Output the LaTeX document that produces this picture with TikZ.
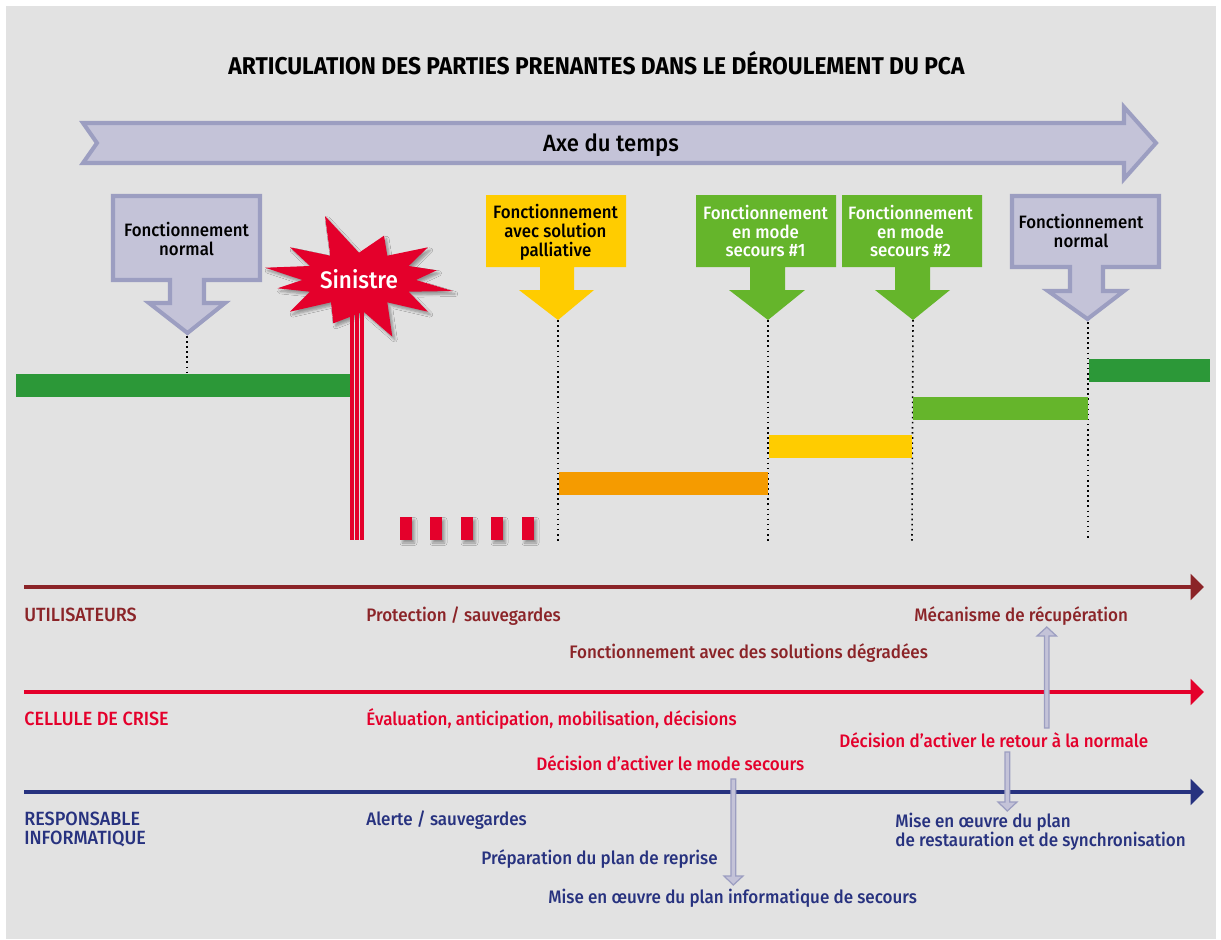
\documentclass[tikz,border=0pt]{standalone}
\usepackage{fontspec}
\setmainfont{Fira Sans}[FakeStretch=0.94,UprightFont=* Medium,BoldFont=* Bold]
\usetikzlibrary{arrows.meta, shadows.blur}
\definecolor{fond}{HTML}{E2E2E2}
\definecolor{lavande}{HTML}{C4C3D8}
\definecolor{lavandeb}{HTML}{9C9EC1}
\definecolor{rouge}{HTML}{E4002B}
\definecolor{bordeaux}{HTML}{8B2428}
\definecolor{marine}{HTML}{27327F}
\definecolor{vert}{HTML}{2C9838}
\definecolor{vertc}{HTML}{65B52B}
\definecolor{jaune}{HTML}{FFCC00}
\definecolor{orange}{HTML}{F59B00}

\begin{document}
\begin{tikzpicture}[line join=miter,x=0.02cm,y=-0.02cm,
  every node/.style={inner sep=0pt},
  lav/.style={fill=lavande, draw=lavandeb, line width=2.3pt},
  fleche/.style={fill=lavande, draw=lavandeb, line width=0.7pt},
  pointille/.style={dotted, black, line width=0.9pt},
  axe/.style={line width=1.8pt, -{Triangle[length=7.6pt,width=14.5pt]}},
  etat/.style={align=center, font=\fontsize{10.2}{10.7}\selectfont},
  etiq/.style={anchor=base west, align=left, font=\fontsize{10.3}{10.8}\selectfont},
  acteur/.style={anchor=base west, align=left, font=\fontsize{10.9}{10.8}\selectfont},
  ombre/.style={blur shadow={shadow xshift=0.05cm,shadow yshift=-0.06cm,shadow blur radius=0.05cm,shadow blur steps=5,shadow opacity=35}}]
\useasboundingbox (0,0) rectangle (1221,940);
\fill [white] (0,0) rectangle (1221,940);
\fill [fond] (6,6) rectangle (1216,939);

\node (titre) at (596.5,63.5) {\fontsize{13.8}{14}\selectfont\bfseries ARTICULATION DES PARTIES PRENANTES DANS LE DÉROULEMENT DU PCA};

% axe du temps
\draw [lav] (83,123) -- (1124,123) -- (1124,107) -- (1156,143) -- (1124,179) -- (1124,163) -- (83,163) -- (97,143) -- cycle;
\node (temps) at (611,145) {\fontsize{13.4}{14}\selectfont Axe du temps};

% pointilles
\coordinate (t0) at (187,336);
\coordinate (t1) at (187,373);
\coordinate (p0) at (558,320);
\coordinate (p1) at (558,541);
\coordinate (s0) at (768,320);
\coordinate (s1) at (768,541);
\coordinate (r0) at (913,320);
\coordinate (r1) at (912,541);
\coordinate (n0) at (1088,322);
\coordinate (n1) at (1088,541);
\foreach \a/\b in {t0/t1, p0/p1, s0/s1, r0/r1, n0/n1}
  \draw [pointille] (\a) -- (\b);

% etats
\draw [lav] (113,196) -- (260,196) -- (260,280) -- (204,280) -- (204,303) -- (225,303) -- (187.5,333) -- (149,303) -- (170,303) -- (170,280) -- (113,280) -- cycle;
\node (normal) [etat] at (186.5,239) {Fonctionnement\\normal};

\fill [jaune] (486,195) -- (626,195) -- (626,267) -- (574,267) -- (574,290) -- (594,290) -- (558,320) -- (519,290) -- (540,290) -- (540,267) -- (486,267) -- cycle;
\node (palliative) [etat] at (555.5,232.5) {Fonctionnement\\avec solution\\palliative};

\fill [vertc] (696,195) -- (836,195) -- (836,267) -- (785,267) -- (785,290) -- (805,290) -- (768,320) -- (729,290) -- (750,290) -- (750,267) -- (696,267) -- cycle;
\node (secours1) [etat, white] at (765.5,231) {Fonctionnement\\en mode\\secours \#1};

\fill [vertc] (842,195) -- (982,195) -- (982,267) -- (930,267) -- (930,290) -- (950,290) -- (913,320) -- (875,290) -- (895,290) -- (895,267) -- (842,267) -- cycle;
\node (secours2) [etat, white] at (910.5,231) {Fonctionnement\\en mode\\secours \#2};

\draw [lav] (1012,196) -- (1159,196) -- (1159,267) -- (1103,267) -- (1103,291) -- (1124,291) -- (1087.5,319) -- (1048,291) -- (1070,291) -- (1070,267) -- (1012,267) -- cycle;
\node (retour) [etat] at (1081,231) {Fonctionnement\\normal};

% sinistre
\fill [rouge, ombre] (325,216) -- (359,252.7) -- (384,235.7) -- (387.3,255.7) -- (427.9,247.3) -- (408.7,266) -- (436.7,270.3) -- (416,280) -- (452.7,291) -- (408.7,291.7) -- (427.9,311.7) -- (387.3,302.3) -- (392.3,336.7) -- (363.6,311.7) -- (333.3,323.3) -- (331,302.3) -- (290,311.7) -- (310,291.7) -- (277.5,288.3) -- (302.3,280) -- (265.2,267.7) -- (310,266) -- (290,247.3) -- (330.3,255.7) -- cycle;
\node (sinistre) [white] at (359,279) {\fontsize{13.6}{14}\selectfont Sinistre};
\foreach \x in {350,355.4,360.3}
  \fill [rouge] (\x,307) rectangle (\x+4,540);
\foreach \x in {400,430,461,491,522}
  \fill [rouge, ombre] (\x,517) rectangle (\x+12,540);

% paliers
\fill [vert] (16,374) rectangle (350,397);
\fill [orange] (559,472) rectangle (768,495);
\fill [jaune] (769,435) rectangle (912,458);
\fill [vertc] (913,397) rectangle (1088,420);
\fill [vert] (1089,359) rectangle (1210,382);

% axes des acteurs
\coordinate (u0) at (24,587);
\coordinate (u1) at (1204,587);
\coordinate (c0) at (24,692);
\coordinate (c1) at (1204,692);
\coordinate (i0) at (24,792);
\coordinate (i1) at (1204,792);
\draw [axe, bordeaux] (u0) -- (u1);
\draw [axe, rouge] (c0) -- (c1);
\draw [axe, marine] (i0) -- (i1);

% petites fleches
\draw [fleche] (1044.5,728) -- (1044.5,636) -- (1037,636) -- (1046.8,627) -- (1056.5,636) -- (1049,636) -- (1049,728) -- cycle;
\draw [fleche] (1005,752) -- (1005,802) -- (998,802) -- (1007.3,811) -- (1017,802) -- (1009.7,802) -- (1009.7,752) -- cycle;
\draw [fleche] (731,779) -- (731,876) -- (724,876) -- (733.3,885) -- (743,876) -- (735.7,876) -- (735.7,779) -- cycle;

% textes
\node (utilisateurs) [acteur, bordeaux] at (24,621) {UTILISATEURS};
\node (protection) [etiq, bordeaux] at (366,621) {Protection / sauvegardes};
\node (recuperation) [etiq, bordeaux] at (914,621) {Mécanisme de récupération};
\node (degradees) [etiq, bordeaux] at (569,658) {Fonctionnement avec des solutions dégradées};
\node (cellule) [acteur, rouge] at (24,725) {CELLULE DE CRISE};
\node (evaluation) [etiq, rouge] at (366,725) {Évaluation, anticipation, mobilisation, décisions};
\node (decretour) [etiq, rouge] at (839,747) {Décision d’activer le retour à la normale};
\node (decmode) [etiq, rouge] at (536,770) {Décision d’activer le mode secours};
\node (responsable) [acteur, marine] at (24,844) {RESPONSABLE\\INFORMATIQUE};
\node (alerte) [etiq, marine] at (366,825) {Alerte / sauvegardes};
\node (preparation) [etiq, marine] at (481,864) {Préparation du plan de reprise};
\node (planinfo) [etiq, marine] at (548,903) {Mise en œuvre du plan informatique de secours};
\node (planresto) [etiq, marine] at (895,846) {Mise en œuvre du plan\\de restauration et de synchronisation};

\end{tikzpicture}
\end{document}
